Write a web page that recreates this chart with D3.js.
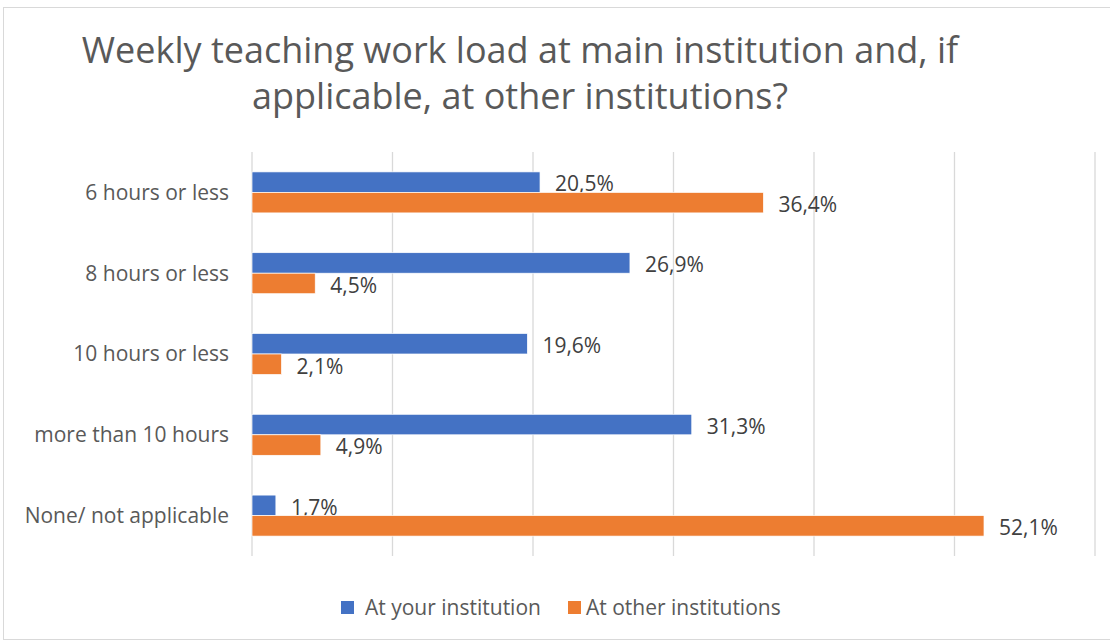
<!DOCTYPE html>
<html>
<head>
<meta charset="utf-8">
<script src="https://cdn.jsdelivr.net/npm/d3@7"></script>
<style>
  body { margin: 0; background: #fff; }
  svg { display: block; font-family: "Open Sans", sans-serif; }
</style>
</head>
<body>
<div id="chart"></div>
<script>
// Data
const categories = ["6 hours or less", "8 hours or less", "10 hours or less", "more than 10 hours", "None/ not applicable"];
const seriesNames = ["At your institution", "At other institutions"];
const atYourInstitution = [20.5, 26.9, 19.6, 31.3, 1.7];
const atOtherInstitutions = [36.4, 4.5, 2.1, 4.9, 52.1];
const xTicks = [0, 10, 20, 30, 40, 50, 60];
const colors = ["#4472C4", "#ED7D31"];

const width = 1110;
const height = 642;

const svg = d3.select("#chart").append("svg")
    .attr("width", width)
    .attr("height", height);

// Chart border
svg.append("rect")
    .attr("x", 3.5).attr("y", 7.5)
    .attr("width", width + 10).attr("height", height - 10)
    .attr("fill", "#fff")
    .attr("stroke", "#d9d9d9");

// Title
const title = svg.append("text")
    .attr("text-anchor", "middle")
    .attr("fill", "#595959")
    .style("font-size", "36px");
title.append("tspan").attr("x", 520).attr("y", 63)
    .text("Weekly teaching work load at main institution and, if");
title.append("tspan").attr("x", 520).attr("y", 109)
    .text("applicable, at other institutions?");

const x = d3.scaleLinear()
    .domain([0, 60])
    .range([252, 1095]);

const y = d3.scaleBand()
    .domain(categories)
    .range([152, 556]);

const inner = d3.scaleBand()
    .domain(seriesNames)
    .range([0, y.bandwidth()])
    .paddingOuter(0.97);

// Gridlines
svg.append("g")
    .selectAll("line")
    .data(xTicks)
    .join("line")
    .attr("x1", d => x(d)).attr("x2", d => x(d))
    .attr("y1", 152).attr("y2", 556)
    .attr("stroke", "#d9d9d9")
    .attr("stroke-width", 1.3);

// Category labels
svg.append("g")
    .selectAll("text")
    .data(categories)
    .join("text")
    .attr("x", 229)
    .attr("y", d => y(d) + y.bandwidth() / 2)
    .attr("dy", "0.35em")
    .attr("text-anchor", "end")
    .attr("fill", "#595959")
    .style("font-size", "21px")
    .text(d => d);

const rows = categories.map((c, i) => ({
  cat: c,
  vals: [atYourInstitution[i], atOtherInstitutions[i]]
}));

const groups = svg.append("g")
    .selectAll("g")
    .data(rows)
    .join("g")
    .attr("transform", d => `translate(0,${y(d.cat)})`);

const bars = groups.selectAll("g")
    .data(d => d.vals.map((v, j) => ({ v, s: seriesNames[j], j })))
    .join("g");

bars.append("rect")
    .attr("x", x(0))
    .attr("y", d => inner(d.s))
    .attr("width", d => x(d.v) - x(0))
    .attr("height", inner.bandwidth())
    .attr("fill", d => colors[d.j])
    .attr("stroke", "#fff")
    .attr("stroke-width", 0.7);

bars.append("text")
    .attr("x", d => x(d.v) + 15)
    .attr("y", d => inner(d.s) + inner.bandwidth() / 2 + 2)
    .attr("dy", "0.35em")
    .attr("fill", "#404040")
    .style("font-size", "21px")
    .text(d => d3.format(".1f")(d.v).replace(".", ",") + "%");

// Legend
const legendX = [341, 568];
const legend = svg.append("g")
    .selectAll("g")
    .data(seriesNames)
    .join("g")
    .attr("transform", (d, i) => `translate(${legendX[i]},601)`);

legend.append("rect")
    .attr("width", 13).attr("height", 13)
    .attr("fill", (d, i) => colors[i]);

legend.append("text")
    .attr("x", (d, i) => i === 0 ? 24 : 18)
    .attr("y", 7)
    .attr("dy", "0.35em")
    .attr("fill", "#595959")
    .style("font-size", "21px")
    .text(d => d);
</script>
</body>
</html>
